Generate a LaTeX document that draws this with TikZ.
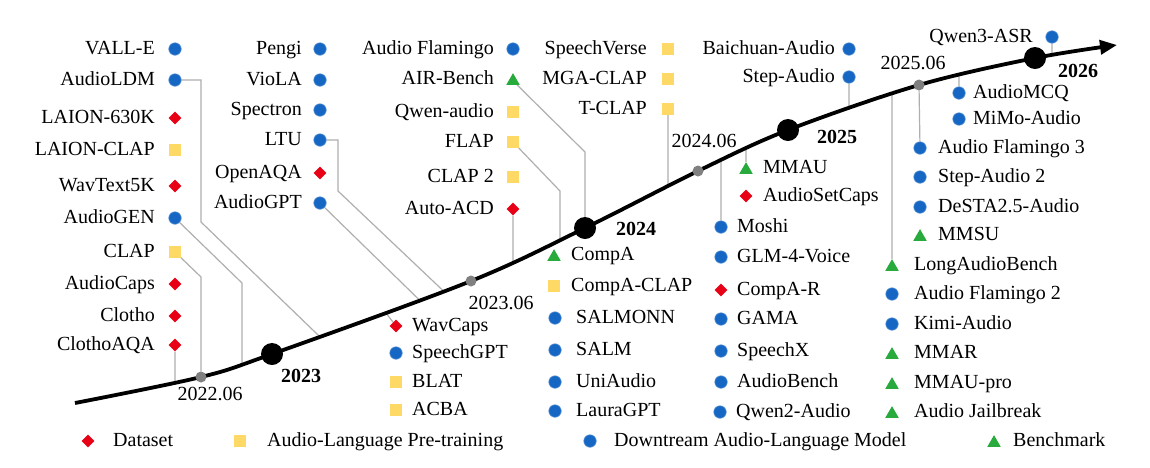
\documentclass[tikz,border=0pt]{standalone}
\usepackage{fontspec}
\setmainfont{Liberation Serif}
\usetikzlibrary{shapes.geometric,arrows.meta,intersections}
\definecolor{dotblue}{RGB}{22,102,195}
\definecolor{dred}{RGB}{232,0,22}
\definecolor{syel}{RGB}{255,217,102}
\definecolor{tgreen}{RGB}{40,170,60}
\definecolor{tickgray}{RGB}{128,128,128}
\definecolor{conngray}{RGB}{175,175,175}
\pgfdeclarelayer{back}\pgfdeclarelayer{bg}\pgfsetlayers{back,bg,main}
\tikzset{
 dotm/.style={circle, fill=dotblue, draw=dotblue!70!white, line width=0.6pt, minimum size=12.5pt, inner sep=0},
 diam/.style={diamond, fill=dred, minimum size=13pt, inner sep=0, aspect=1},
 sqm/.style={rectangle, fill=syel, minimum size=11.5pt, inner sep=0},
 trim/.style={regular polygon, regular polygon sides=3, fill=tgreen, minimum size=15.5pt, inner sep=0, yshift=-1.9pt},
 lab/.style={font=\fontsize{20}{24}\selectfont, inner sep=0},
 labL/.style={lab, anchor=base east},
 labR/.style={lab, anchor=base west},
 conn/.style={draw=conngray, line width=1.2pt},
 yearb/.style={circle, fill=black, minimum size=22pt, inner sep=0},
 tickm/.style={circle, fill=tickgray, minimum size=11pt, inner sep=0},
 datelab/.style={lab, anchor=base},
 yearlab/.style={lab, anchor=base, font=\fontsize{20}{24}\selectfont\bfseries},
}
\newcommand\mkL[6]{\node[#2] (#1) at (#3,#4) {}; \node[labL] (#1t) at ([xshift=-#5pt,yshift=-5.5pt]#3,#4) {#6};}
\newcommand\mkR[6]{\node[#2] (#1) at (#3,#4) {}; \node[labR] (#1t) at ([xshift=#5pt,yshift=-5.5pt]#3,#4) {#6};}
\newcommand\crvpt[2]{\path[name path=vl#2] (#1,-10) -- (#1,480); \path[name intersections={of=tl and vl#2}] (intersection-1) coordinate (#2);}
\begin{document}
\begin{tikzpicture}[x=1pt,y=-1pt]
\useasboundingbox (0,0) rectangle (1150,467);
\begin{pgfonlayer}{back}\fill[white] (0,0) rectangle (1150,467);\end{pgfonlayer}
% timeline
\path[name path=tl] plot[smooth, tension=0.55] coordinates {(75,403) (201,377) (272,354) (471,281) (585,228) (698,171) (788,130) (919,85) (1035,58) (1117,45)};
\draw[line width=3.8pt, -{Triangle[length=17pt,width=14pt]}] plot[smooth, tension=0.55] coordinates {(75,403) (201,377) (272,354) (471,281) (585,228) (698,171) (788,130) (919,85) (1035,58) (1117,45)};
\node[tickm] (t2206) at (201,377) {};
\node[tickm] (t2306) at (471,281) {};
\node[tickm] (t2406) at (698,171) {};
\node[tickm] (t2506) at (919,85) {};
\node[yearb] (y2023) at (272,354) {};
\node[yearb] (y2024) at (585,228) {};
\node[yearb] (y2025) at (788,130) {};
\node[yearb] (y2026) at (1035,58) {};
\node[datelab] (l2206) at (210,400) {2022.06};
\node[datelab] (l2306) at (501,309) {2023.06};
\node[datelab] (l2406) at (704,147) {2024.06};
\node[datelab] (l2506) at (913,69) {2025.06};
\node[yearlab] (l2023) at (301,382) {2023};
\node[yearlab] (l2024) at (636,235) {2024};
\node[yearlab] (l2025) at (837,143) {2025};
\node[yearlab] (l2026) at (1078,77) {2026};
% column A
\mkL{vall}{dotm}{175}{49}{20}{VALL-E}
\mkL{aldm}{dotm}{175}{80}{20}{AudioLDM}
\mkL{laion}{diam}{175}{118}{20}{LAION-630K}
\mkL{lclap}{sqm}{175}{150}{20}{LAION-CLAP}
\mkL{wtk}{diam}{175}{186}{20}{WavText5K}
\mkL{agen}{dotm}{175}{218}{20}{AudioGEN}
\mkL{clap}{sqm}{175}{252}{20}{CLAP}
\mkL{acaps}{diam}{175}{284}{20}{AudioCaps}
\mkL{clotho}{diam}{175}{316}{20}{Clotho}
\mkL{caqa}{diam}{175}{345}{20}{ClothoAQA}
% column B
\mkL{pengi}{dotm}{320}{49}{18}{Pengi}
\mkL{viola}{dotm}{320}{80}{18}{VioLA}
\mkL{spectron}{dotm}{320}{110}{18}{Spectron}
\mkL{ltu}{dotm}{320}{140}{18}{LTU}
\mkL{openaqa}{diam}{320}{173}{18}{OpenAQA}
\mkL{agpt}{dotm}{320}{203}{18}{AudioGPT}
% column C
\mkL{aflam}{dotm}{513}{49}{19}{Audio Flamingo}
\mkL{airb}{trim}{513}{79}{19}{AIR-Bench}
\mkL{qwena}{sqm}{513}{112}{19}{Qwen-audio}
\mkL{flap}{sqm}{513}{142}{19}{FLAP}
\mkL{clapii}{sqm}{513}{177}{19}{CLAP 2}
\mkL{autoacd}{diam}{513}{209}{19}{Auto-ACD}
% column D
\mkL{sverse}{sqm}{668}{49}{21}{SpeechVerse}
\mkL{mgaclap}{sqm}{668}{79}{21}{MGA-CLAP}
\mkL{tclap}{sqm}{668}{109}{21}{T-CLAP}
% column E, F
\mkL{baichuan}{dotm}{849}{49}{14}{Baichuan-Audio}
\mkL{stepaudio}{dotm}{849}{77}{14}{Step-Audio}
\mkL{qwenasr}{dotm}{1052}{37}{19}{Qwen3-ASR}
% lower columns
\mkR{wavcaps}{diam}{396}{326}{16}{WavCaps}
\mkR{speechgpt}{dotm}{396}{353}{16}{SpeechGPT}
\mkR{blat}{sqm}{396}{382}{16}{BLAT}
\mkR{acba}{sqm}{396}{410}{16}{ACBA}
\mkR{compa}{trim}{554}{255}{17}{CompA}
\mkR{compaclap}{sqm}{554}{286}{17}{CompA-CLAP}
\mkR{salmonn}{dotm}{555}{318}{21}{SALMONN}
\mkR{salm}{dotm}{555}{350}{21}{SALM}
\mkR{uniaudio}{dotm}{555}{382}{21}{UniAudio}
\mkR{lauragpt}{dotm}{555}{411}{21}{LauraGPT}
\mkR{mmau}{trim}{746}{168}{17}{MMAU}
\mkR{asc}{diam}{746}{196}{17}{AudioSetCaps}
\mkR{moshi}{dotm}{721}{227}{16}{Moshi}
\mkR{glm}{dotm}{721}{257}{16}{GLM-4-Voice}
\mkR{compar}{diam}{721}{290}{16}{CompA-R}
\mkR{gama}{dotm}{721}{319}{16}{GAMA}
\mkR{speechx}{dotm}{721}{351}{16}{SpeechX}
\mkR{abench}{dotm}{721}{382}{16}{AudioBench}
\mkR{qwentwo}{dotm}{720}{412}{16}{Qwen2-Audio}
\mkR{afiii}{dotm}{920}{148}{18}{Audio Flamingo 3}
\mkR{stepii}{dotm}{920}{177}{18}{Step-Audio 2}
\mkR{desta}{dotm}{920}{207}{18}{DeSTA2.5-Audio}
\mkR{mmsu}{trim}{920}{235}{18}{MMSU}
\mkR{labench}{trim}{892}{265}{22}{LongAudioBench}
\mkR{afii}{dotm}{892}{294}{22}{Audio Flamingo 2}
\mkR{kimi}{dotm}{892}{324}{22}{Kimi-Audio}
\mkR{mmar}{trim}{892}{353}{22}{MMAR}
\mkR{mmaupro}{trim}{892}{383}{22}{MMAU-pro}
\mkR{jail}{trim}{892}{412}{22}{Audio Jailbreak}
\mkR{amcq}{dotm}{959}{93}{14}{AudioMCQ}
\mkR{mimo}{dotm}{959}{119}{14}{MiMo-Audio}
% legend
\mkR{lgdata}{diam}{88}{441}{25}{Dataset}
\mkR{lgpre}{sqm}{240}{441}{27}{Audio-Language Pre-training}
\mkR{lgmodel}{dotm}{590}{441}{24}{Downtream Audio-Language Model}
\mkR{lgbench}{trim}{994}{441}{19}{Benchmark}
% curve points
\crvpt{320}{paldm}
\crvpt{242}{pagen}
\crvpt{175}{pcaqa}
\crvpt{444}{pltu}
\crvpt{420}{pagpt}
\crvpt{560}{pflap}
\crvpt{513}{pautoacd}
\crvpt{668}{ptclap}
\crvpt{849}{pstep}
\crvpt{1052}{pqwenasr}
\crvpt{746}{pmmau}
\crvpt{721}{pmoshi}
\crvpt{892}{plabench}
\crvpt{959}{pamcq}
\crvpt{386}{pwavcaps}
\begin{pgfonlayer}{bg}
\draw[conn] (aldm) -- (201,80) -- (201,222) -- (paldm);
\draw[conn] (agen) -- (242,283) -- (pagen);
\draw[conn] (clap) -- (201,277) -- (t2206);
\draw[conn] (caqa) -- (pcaqa);
\draw[conn] (ltu) -- (338,140) -- (338,191) -- (pltu);
\draw[conn] (agpt) -- (pagpt);
\draw[conn] (airb) -- (585,152) -- (y2024);
\draw[conn] (flap) -- (560,191) -- (pflap);
\draw[conn] (autoacd) -- (pautoacd);
\draw[conn] (tclap) -- (ptclap);
\draw[conn] (stepaudio) -- (pstep);
\draw[conn] (qwenasr) -- (pqwenasr);
\draw[conn] (mmau) -- (pmmau);
\draw[conn] (moshi) -- (pmoshi);
\draw[conn] (labench) -- (plabench);
\draw[conn] (afiii) -- (t2506);
\draw[conn] (amcq) -- (pamcq);
\draw[conn] (wavcaps) -- (pwavcaps);
\end{pgfonlayer}
\end{tikzpicture}
\end{document}
